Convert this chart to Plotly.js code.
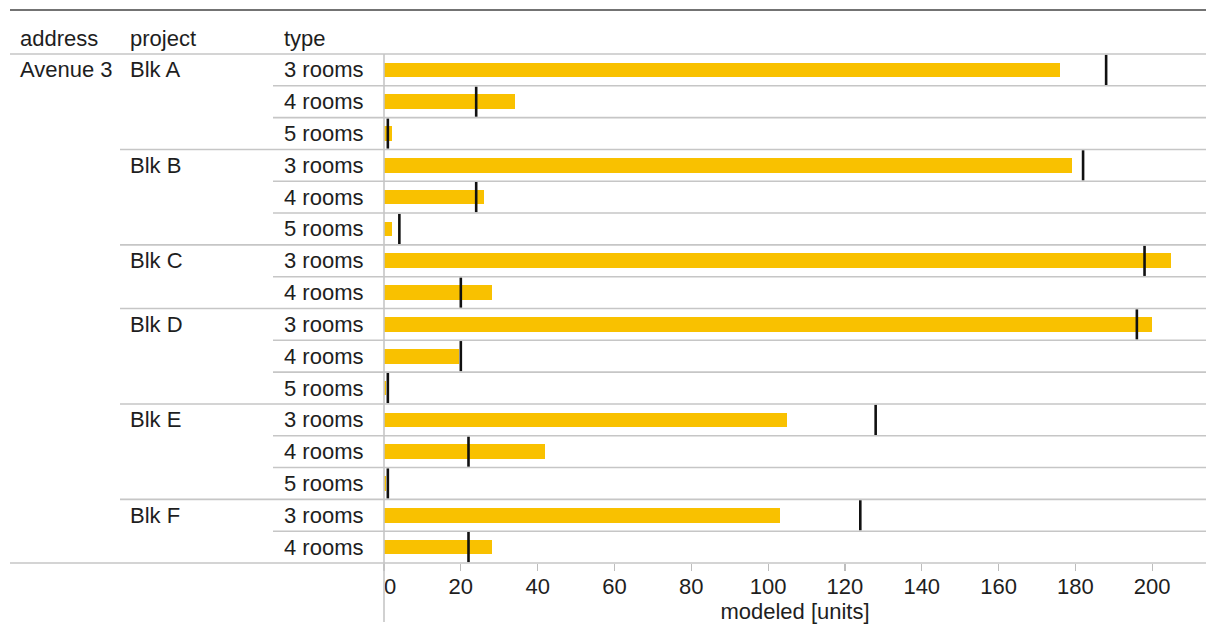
<!DOCTYPE html>
<html>
<head>
<meta charset="utf-8">
<script src="https://cdn.plot.ly/plotly-3.0.1.min.js"></script>
<style>
  html, body { margin: 0; padding: 0; background: #ffffff; }
  #chart { width: 1206px; height: 630px; }
</style>
</head>
<body>
<div id="chart"></div>
<script>
// ---- data ----
const address = ['Avenue 3','Avenue 3','Avenue 3','Avenue 3','Avenue 3','Avenue 3','Avenue 3','Avenue 3',
                 'Avenue 3','Avenue 3','Avenue 3','Avenue 3','Avenue 3','Avenue 3','Avenue 3','Avenue 3'];
const project = ['Blk A','Blk A','Blk A','Blk B','Blk B','Blk B','Blk C','Blk C',
                 'Blk D','Blk D','Blk D','Blk E','Blk E','Blk E','Blk F','Blk F'];
const roomType = ['3 rooms','4 rooms','5 rooms','3 rooms','4 rooms','5 rooms','3 rooms','4 rooms',
                  '3 rooms','4 rooms','5 rooms','3 rooms','4 rooms','5 rooms','3 rooms','4 rooms'];
const modeled = [176, 34, 2, 179, 26, 2, 205, 28, 200, 19.5, 0.5, 105, 42, 0.5, 103, 28];
const target  = [188, 24, 1, 182, 24, 4, 198, 20, 196, 20, 1, 128, 22, 1, 124, 22];
const headers = ['address', 'project', 'type'];
const tickValues = [0, 20, 40, 60, 80, 100, 120, 140, 160, 180, 200];
const tickLabels = ['\u00a0\u00a00', '20', '40', '60', '80', '100', '120', '140', '160', '180', '200'];
const xTitle = 'modeled [units]';

// ---- layout constants ----
const W = 1206, H = 630;
const ML = 384, MR = 0, MT = 54, MB = 67;
const plotW = W - ML - MR, plotH = H - MT - MB;
const nRows = roomType.length;
const rowH = plotH / nRows;
const px2paperX = px => (px - ML) / plotW;
const px2paperY = py => (H - MB - py) / plotH;
const colX = [18, 128, 282];
const FONT = '"Liberation Sans", Arial, sans-serif';
const FS = 22;
const TXT = '#1e1e1e';
const gridColor = '#c6c6c6';

const rowsIdx = roomType.map((_, i) => i);

const traces = [
  {
    type: 'bar', orientation: 'h',
    y: rowsIdx, x: modeled,
    width: 0.46,
    marker: { color: '#F9C100', line: { width: 0 } },
    hoverinfo: 'x'
  },
  {
    type: 'scatter', mode: 'markers',
    y: rowsIdx, x: target,
    marker: { symbol: 'line-ns', size: (rowH - 1.5) / 1.4, color: '#111', line: { color: '#111', width: 2.6 } },
    cliponaxis: false,
    hoverinfo: 'x'
  }
];

const annotations = [];
const shapes = [];
const txtFont = { family: FONT, size: FS, color: TXT };
// headers
headers.forEach((h, k) => {
  annotations.push({ xref: 'paper', yref: 'paper', x: px2paperX(colX[k]), y: px2paperY(39), text: h,
    xanchor: 'left', yanchor: 'middle', showarrow: false, font: txtFont });
});
for (let i = 0; i < nRows; i++) {
  if (i === 0 || address[i] !== address[i - 1]) {
    annotations.push({ xref: 'paper', yref: 'y', x: px2paperX(colX[0]), y: i, text: address[i],
      xanchor: 'left', yanchor: 'middle', showarrow: false, font: txtFont });
  }
  if (i === 0 || project[i] !== project[i - 1]) {
    annotations.push({ xref: 'paper', yref: 'y', x: px2paperX(colX[1]), y: i, text: project[i],
      xanchor: 'left', yanchor: 'middle', showarrow: false, font: txtFont });
  }
  annotations.push({ xref: 'paper', yref: 'y', x: px2paperX(colX[2]), y: i, text: roomType[i],
    xanchor: 'left', yanchor: 'middle', showarrow: false, font: txtFont });
}
// row separators
for (let i = 1; i < nRows; i++) {
  let startPx = 273;
  if (project[i] !== project[i - 1]) startPx = 120;
  if (address[i] !== address[i - 1]) startPx = 10;
  const yp = 1 - i / nRows;
  shapes.push({ type: 'line', xref: 'paper', yref: 'paper', x0: px2paperX(startPx), x1: 1, y0: yp, y1: yp,
    line: { color: gridColor, width: 1.6 } });
}
// header bottom, chart bottom, top rule
shapes.push({ type: 'line', xref: 'paper', yref: 'paper', x0: px2paperX(10), x1: 1, y0: 1, y1: 1,
  line: { color: gridColor, width: 1.6 } });
shapes.push({ type: 'line', xref: 'paper', yref: 'paper', x0: px2paperX(10), x1: 1, y0: 0, y1: 0,
  line: { color: gridColor, width: 1.6 } });
shapes.push({ type: 'line', xref: 'paper', yref: 'paper', x0: px2paperX(10), x1: 1, y0: px2paperY(10), y1: px2paperY(10),
  line: { color: '#454545', width: 1.6 } });
// vertical axis line
shapes.push({ type: 'line', xref: 'paper', yref: 'paper', x0: 0, x1: 0, y0: 1, y1: px2paperY(622),
  line: { color: gridColor, width: 1.6 } });

const layout = {
  width: W, height: H,
  margin: { l: ML, r: MR, t: MT, b: MB, pad: 0 },
  paper_bgcolor: '#ffffff', plot_bgcolor: '#ffffff',
  showlegend: false,
  font: txtFont,
  bargap: 0,
  xaxis: {
    range: [0, 214], showgrid: false, zeroline: false, showline: false,
    tickmode: 'array', tickvals: tickValues, ticktext: tickLabels,
    ticks: 'outside', ticklen: 7, tickwidth: 1.2, tickcolor: '#bdbdbd',
    ticklabelstandoff: -3,
    tickfont: txtFont,
    title: { text: xTitle, font: txtFont, standoff: 0 },
    fixedrange: true
  },
  yaxis: {
    range: [nRows - 0.5, -0.5], showgrid: false, zeroline: false, showline: false,
    showticklabels: false, ticks: '', fixedrange: true
  },
  annotations: annotations,
  shapes: shapes
};

Plotly.newPlot('chart', traces, layout, { displayModeBar: false, staticPlot: true });
</script>
</body>
</html>
